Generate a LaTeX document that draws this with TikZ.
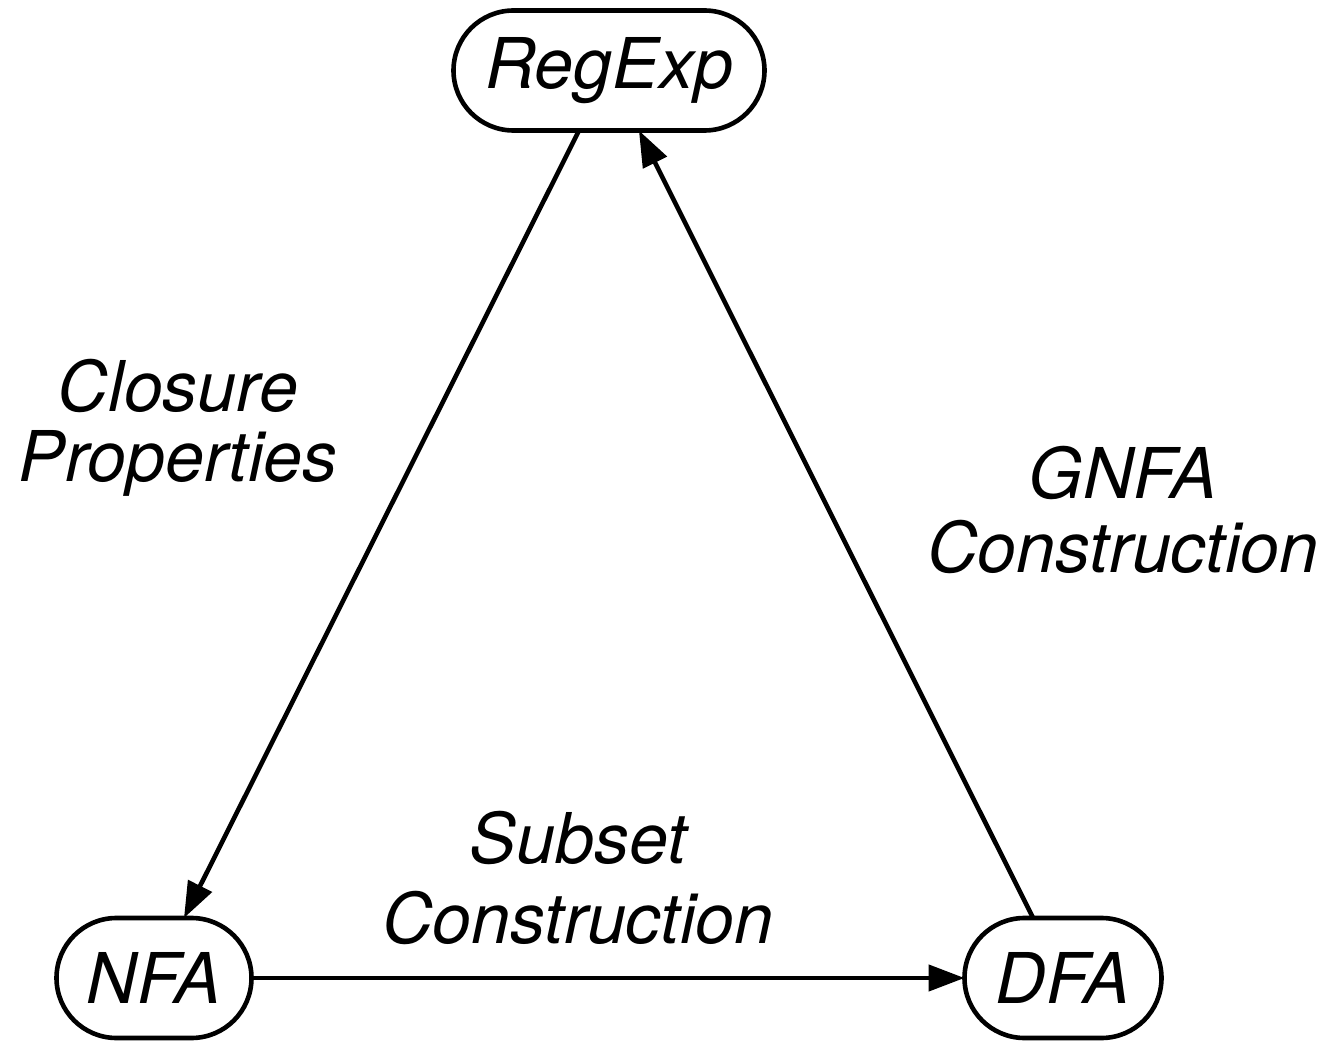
\documentclass[tikz,border=0pt]{standalone}
\usepackage{fontspec}
\setmainfont{TeX Gyre Heros}
\usetikzlibrary{arrows.meta}

\begin{document}
\begin{tikzpicture}[
  x=0.5pt, y=-0.5pt,
  every node/.style={font=\fontsize{35}{35}\selectfont\itshape},
  automaton/.style={draw, line width=2.3pt, rectangle, rounded corners=30pt,
    minimum height=60pt, inner sep=0pt, outer sep=0pt},
  lbl/.style={align=center, inner sep=0pt},
  conv/.style={line width=2.3pt, -{Triangle[length=18pt, width=13pt]}}
]
  \useasboundingbox (0,0) rectangle (1324,1043);

  % the three formalisms
  \node[automaton, minimum width=155.5pt] (regexp) at (609,70.5) {RegExp};
  \node[automaton, minimum width=97.5pt]  (nfa)    at (154,978)  {NFA};
  \node[automaton, minimum width=98.5pt]  (dfa)    at (1063,978) {DFA};

  % conversions between them
  \draw[conv] (regexp) -- (nfa);
  \draw[conv] (nfa) -- (dfa);
  \draw[conv] (dfa) -- (regexp);

  % names of the constructions
  \node[lbl] (closure) at (178,428) {Closure\\Properties};
  \node[lbl] (gnfa)    at (1123,510) {GNFA\\[2pt]Construction};
  \node[lbl] (subset)  at (578,878) {Subset\\[5pt]Construction};
\end{tikzpicture}
\end{document}
